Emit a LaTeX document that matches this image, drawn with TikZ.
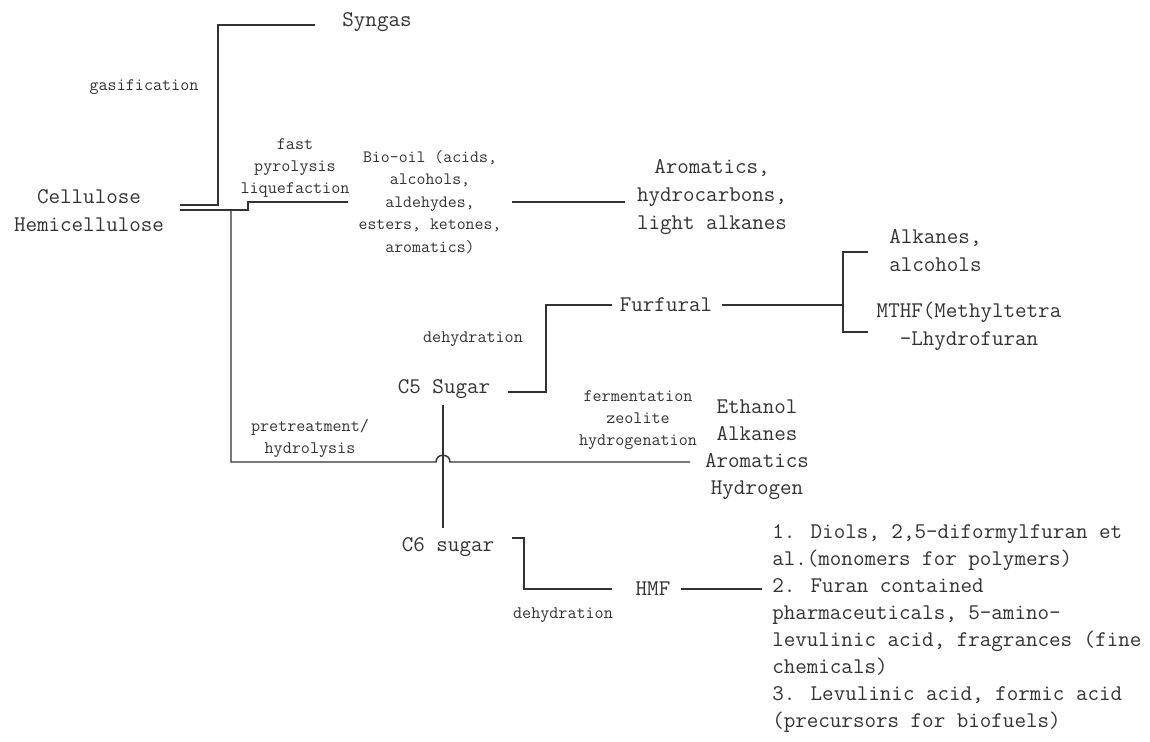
\documentclass[tikz,border=0pt]{standalone}
\usepackage{fontspec}
\usetikzlibrary{positioning}
\definecolor{ink}{HTML}{333333}
\tikzset{
  big/.style={font=\ttfamily\fontsize{16.8}{21}\selectfont, text=ink, inner sep=0pt, align=center},
  mid/.style={font=\ttfamily\fontsize{13}{16.9}\selectfont, text=ink, inner sep=0pt, align=center},
  lbl/.style={font=\ttfamily\fontsize{13.2}{16.4}\selectfont, text=ink, inner sep=0pt, align=center},
  link/.style={draw=ink, line width=1.1pt},
}
\begin{document}
\begin{tikzpicture}[x=0.75pt,y=-0.75pt]
  \useasboundingbox (0,0) rectangle (1150,742);
  % feedstock and products
  \node[big] (cell) at (89,211) {Cellulose\\Hemicellulose};
  \node[big] (syngas) at (377,22) {Syngas};
  \node[mid] (biooil) at (430,202) {Bio-oil (acids,\\alcohols,\\aldehydes,\\esters, ketones,\\aromatics)};
  \node[big] (arom) at (712,197) {Aromatics,\\hydrocarbons,\\light alkanes};
  \node[big] (furf) at (666,305) {Furfural};
  \node[big, align=left, anchor=west] (alk) at (889,251) {Alkanes,\\alcohols};
  \node[big] (mthf) at (969,326) {MTHF(Methyltetra\\-Lhydrofuran};
  \node[big] (c5) at (444,389) {C5 Sugar};
  \node[big, font=\ttfamily\fontsize{16.8}{20.25}\selectfont] (fuels) at (757,450) {Ethanol\\Alkanes\\Aromatics\\Hydrogen};
  \node[big] (c6) at (448,547) {C6 sugar};
  \node[big] (hmf) at (653,589) {HMF};
  \node[big, align=left, anchor=west, font=\ttfamily\fontsize{16.8}{20.25}\selectfont] (chem) at (772,629)
    {1. Diols, 2,5-diformylfuran et\\al.(monomers for polymers)\\2. Furan contained\\pharmaceuticals, 5-amino-\\levulinic acid, fragrances (fine\\chemicals)\\3. Levulinic acid, formic acid\\(precursors for biofuels)};
  % process labels
  \node[lbl] (gas) at (144,87) {gasification};
  \node[lbl] (pyro) at (295,168) {fast\\pyrolysis\\liquefaction};
  \node[lbl] (dehydA) at (473,339) {dehydration};
  \node[lbl] (ferm) at (638,420) {fermentation\\zeolite\\hydrogenation};
  \node[lbl] (pretr) at (310,438) {pretreatment/\\hydrolysis};
  \node[lbl] (dehydB) at (563,615) {dehydration};
  % connector ends
  \coordinate (gasIn) at (180,205);
  \coordinate (gasOut) at (315,25);
  \coordinate (pyIn) at (180,210);
  \coordinate (pyOut) at (348,202);
  \coordinate (trunk) at (231,210);
  \coordinate (fuelIn) at (690,462);
  \coordinate (c5out) at (508,392);
  \coordinate (furfIn) at (612,305);
  \coordinate (brMid) at (843,305);
  \coordinate (brTop) at (868,252);
  \coordinate (brBot) at (868,332);
  \coordinate (c5down) at (443,405);
  \coordinate (c6up) at (443,528);
  \coordinate (c6out) at (512,538);
  \coordinate (hmfIn) at (612,589);
  % connectors
  \draw[link] (gasIn) -| (218,25) -- (gasOut);
  \draw[link] (pyIn) -- (248,210) |- (pyOut);
  \draw[link] (trunk) |- (436,462) .. controls (436,453) and (450,453) .. (450,462) -- (fuelIn);
  \draw[link, shorten <=7.5pt, shorten >=9pt] (biooil.east) -- (biooil.east -| arom.west);
  \draw[link] (c5out) -| (546,305) -- (furfIn);
  \draw[link, shorten <=7.5pt] (furf.east) -- (brMid);
  \draw[link] (brTop) -| (843,332) -- (brBot);
  \draw[link] (c5down) -- (c6up);
  \draw[link] (c6out) -| (524,589) -- (hmfIn);
  \draw[link, shorten <=8pt, shorten >=7.5pt] (hmf.east) -- (hmf.east -| chem.west);
\end{tikzpicture}
\end{document}
